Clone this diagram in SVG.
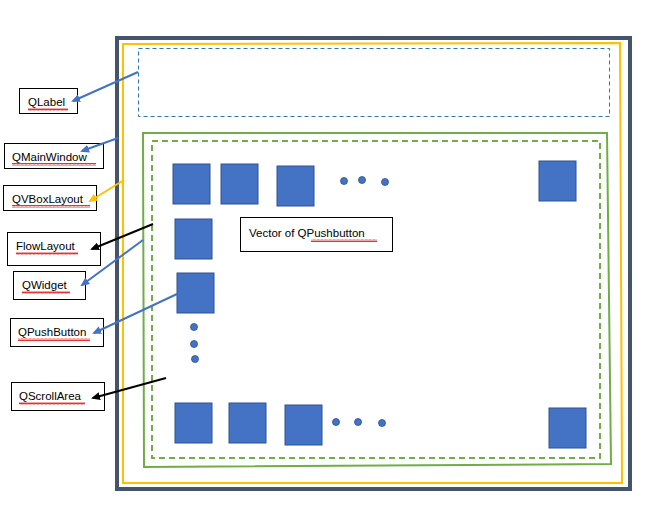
<svg xmlns="http://www.w3.org/2000/svg" width="651" height="518" viewBox="0 0 651 518">
<style>
.lbl{fill:#fff;stroke:#000;stroke-width:1}
.t{font-family:"Liberation Sans",Arial,sans-serif;font-size:11.5px;fill:#000}
.btn{fill:#4472C4;stroke:#2F528F;stroke-width:1}
.dot{fill:#4472C4;stroke:#2F528F;stroke-width:0.8}
.sq{fill:url(#squig)}
.cb{stroke:#4472C4;stroke-width:2;fill:none;marker-end:url(#ab)}
.ck{stroke:#000;stroke-width:2;fill:none;marker-end:url(#ak)}
.cy{stroke:#FFC000;stroke-width:2;fill:none;marker-end:url(#ay)}
</style>
<defs>
<pattern id="squig" width="4" height="3" patternUnits="userSpaceOnUse">
<path d="M0,2.5 L1,0.5 L2,2.5 L3,0.5 L4,2.5" stroke="#E00000" stroke-width="0.8" fill="none"/>
</pattern>
<marker id="ab" markerWidth="9" markerHeight="8" refX="7" refY="4" orient="auto" markerUnits="userSpaceOnUse"><path d="M0,0 L9,4 L0,8 Z" fill="#4472C4"/></marker>
<marker id="ak" markerWidth="9" markerHeight="8" refX="7" refY="4" orient="auto" markerUnits="userSpaceOnUse"><path d="M0,0 L9,4 L0,8 Z" fill="#000"/></marker>
<marker id="ay" markerWidth="9" markerHeight="8" refX="7" refY="4" orient="auto" markerUnits="userSpaceOnUse"><path d="M0,0 L9,4 L0,8 Z" fill="#FFC000"/></marker>
</defs>
<rect width="651" height="518" fill="#fff"/>

<g id="mainwindow"><rect x="117" y="38" width="513" height="451" fill="none" stroke="#44546A" stroke-width="4"/></g>
<g id="vboxlayout"><path d="M123,44 L620,43 L622,483 L123,483 Z" fill="none" stroke="#FFC000" stroke-width="2"/></g>
<g id="qlabel-area"><rect x="138.5" y="48.5" width="471" height="68" fill="none" stroke="#2E75B6" stroke-width="1" stroke-dasharray="4,3"/></g>
<g id="scrollarea"><path d="M143,133 L607,133 L611,464 L144,467 Z" fill="none" stroke="#70AD47" stroke-width="2"/></g>
<g id="flowlayout"><rect x="152" y="141" width="448" height="317" fill="none" stroke="#70AD47" stroke-width="2" stroke-dasharray="6,4"/></g>

<g id="buttons">
<rect class="btn" x="173" y="164" width="37" height="40"/>
<rect class="btn" x="221" y="164" width="37" height="40"/>
<rect class="btn" x="277" y="166" width="37" height="40"/>
<circle class="dot" cx="344" cy="181" r="3.5"/>
<circle class="dot" cx="362" cy="180" r="3.5"/>
<circle class="dot" cx="385" cy="182" r="3.5"/>
<rect class="btn" x="539" y="161" width="37" height="40"/>
<rect class="btn" x="175" y="219" width="37" height="40"/>
<rect class="btn" x="177" y="273" width="37" height="40"/>
<circle class="dot" cx="194" cy="327" r="3.5"/>
<circle class="dot" cx="194" cy="344" r="3.5"/>
<circle class="dot" cx="195" cy="359" r="3.5"/>
<rect class="btn" x="175" y="403" width="37" height="40"/>
<rect class="btn" x="229" y="403" width="37" height="40"/>
<rect class="btn" x="285" y="405" width="37" height="40"/>
<circle class="dot" cx="336" cy="422" r="3.5"/>
<circle class="dot" cx="358" cy="422" r="3.5"/>
<circle class="dot" cx="382" cy="423" r="3.5"/>
<rect class="btn" x="549" y="408" width="37" height="40"/>
</g>

<g id="vector-label">
<rect class="lbl" x="240.5" y="217.5" width="152" height="34"/>
<text class="t" x="249" y="237">Vector of QPushbutton</text>
<rect class="sq" x="311" y="239" width="66" height="3"/>
</g>

<g id="n-qlabel"><rect class="lbl" x="19.5" y="88.5" width="58" height="25"/><text class="t" x="28" y="106">QLabel</text><rect class="sq" x="28" y="108" width="40" height="3"/></g>
<g id="n-qmainwindow"><rect class="lbl" x="4.5" y="143.5" width="99" height="25"/><text class="t" x="12" y="161">QMainWindow</text><rect class="sq" x="12" y="163" width="84" height="3"/></g>
<g id="n-qvboxlayout"><rect class="lbl" x="3.5" y="185.5" width="93" height="25"/><text class="t" x="12" y="203">QVBoxLayout</text><rect class="sq" x="12" y="205" width="78" height="3"/></g>
<g id="n-flowlayout"><rect class="lbl" x="7.5" y="232.5" width="93" height="33"/><text class="t" x="16" y="250">FlowLayout</text><rect class="sq" x="16" y="252" width="62" height="3"/></g>
<g id="n-qwidget"><rect class="lbl" x="13.5" y="271.5" width="72" height="28"/><text class="t" x="22" y="289">QWidget</text><rect class="sq" x="22" y="291" width="48" height="3"/></g>
<g id="n-qpushbutton"><rect class="lbl" x="10.5" y="318.5" width="93" height="28"/><text class="t" x="18" y="336">QPushButton</text><rect class="sq" x="18" y="338" width="72" height="3"/></g>
<g id="n-qscrollarea"><rect class="lbl" x="11.5" y="382.5" width="93" height="28"/><text class="t" x="19" y="400">QScrollArea</text><rect class="sq" x="19" y="402" width="66" height="3"/></g>

<g id="connectors">
<line class="cb" x1="138" y1="72" x2="73" y2="101"/>
<line class="cb" x1="118" y1="138" x2="82" y2="151"/>
<line class="cy" x1="124" y1="180" x2="90" y2="201"/>
<line class="ck" x1="153" y1="224" x2="92" y2="249"/>
<line class="cb" x1="143" y1="240" x2="82" y2="285"/>
<line class="cb" x1="177" y1="294" x2="94" y2="333"/>
<line class="ck" x1="166" y1="378" x2="93" y2="398"/>
</g>
</svg>
